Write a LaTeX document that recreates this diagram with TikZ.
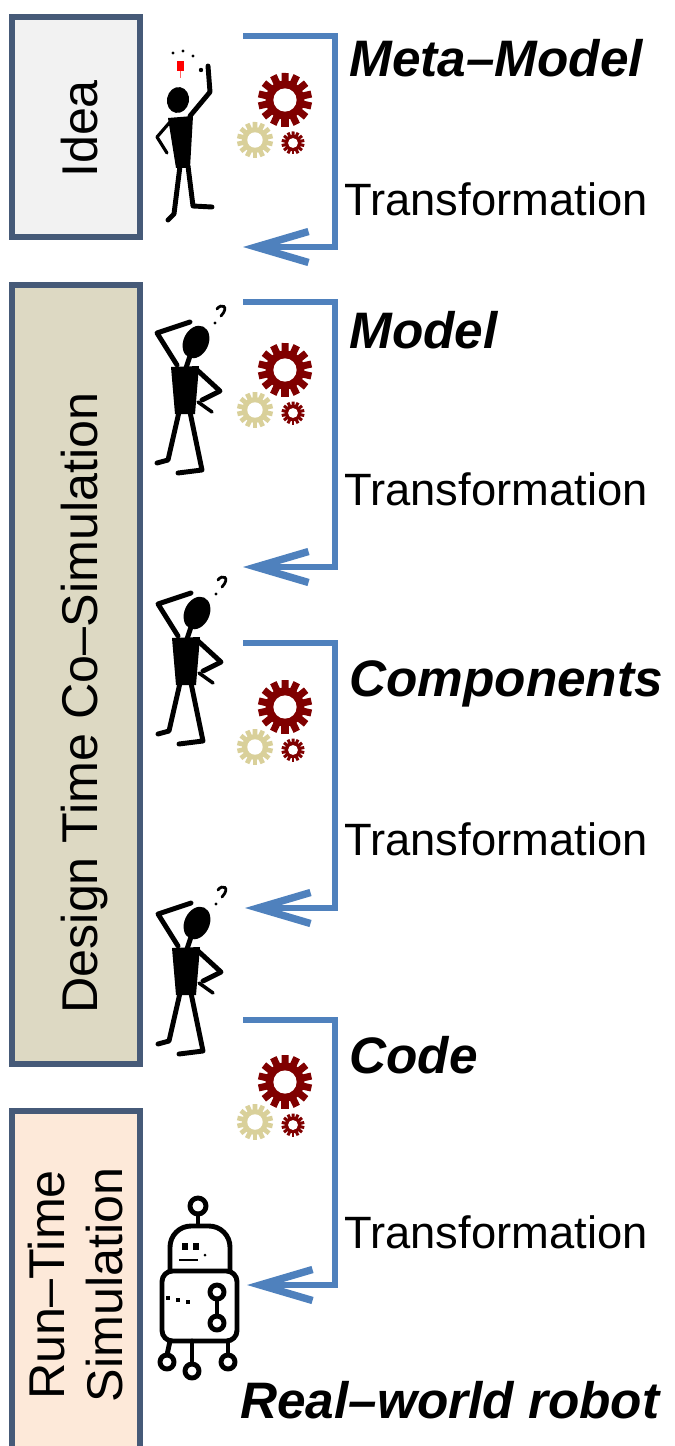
\documentclass[tikz,border=0pt]{standalone}
\usepackage{fontspec}
\setmainfont{Liberation Sans}
\usepackage{tikz}
\usetikzlibrary{arrows.meta}

\definecolor{flowblue}{HTML}{4F81BD}
\definecolor{frameblue}{HTML}{465A78}
\definecolor{ideafill}{HTML}{F2F2F2}
\definecolor{designfill}{HTML}{DDD9C3}
\definecolor{runfill}{HTML}{FDE9D9}
\definecolor{cogred}{HTML}{800000}
\definecolor{cogkhaki}{HTML}{D9D09A}

\begin{document}
\begin{tikzpicture}[x=0.02cm, y=-0.02cm]
    \tikzstyle{phase} = [draw=frameblue, line width=3.4pt]
    \tikzstyle{phasetext} = [inner sep=0pt, rotate=90, font=\fontsize{28.6}{33}\selectfont]
    \tikzstyle{stage} = [inner sep=0pt, anchor=base west, font=\fontsize{29.2}{34}\selectfont\bfseries\itshape]
    \tikzstyle{trans} = [inner sep=0pt, anchor=base west, font=\fontsize{25.8}{30}\selectfont]
    \tikzstyle{flow} = [flowblue, line width=3pt, -{Straight Barb[length=1.05cm, width=0.62cm, line width=4.2pt]}]
    \tikzstyle{ink} = [line width=2.8pt, line cap=round, line join=round]

    \tikzset{
      pics/cog/.style={code={
        \fill (0,0) circle (7.2);
        \foreach \a in {0,25.7,...,340} \fill[rotate=\a] (-1.3,0) rectangle (1.3,10);
        \fill[white] (0,0) circle (4.3);
      }},
      pics/cogs/.style={code={
        \pic[cogred, scale=2.7] {cog};
        \pic[cogkhaki, scale=1.8] at (-30,40) {cog};
        \pic[cogred, scale=1.15] at (8,43) {cog};
      }},
      pics/thinker/.style={code={
        \fill[rotate=-25] (0,0) ellipse (12.5 and 17);
        % hand scratching the head
        \draw[ink] (-19,23) -- (-39,-9) -- (-6,-20);
        \draw[ink] (-6,14) -- (-10,26);
        \fill (-25,25) -- (3,24) -- (-1,72) -- (-21,72) -- cycle;
        \draw[ink] (0,27) -- (24,49) -- (6,58);
        \draw[ink, line width=2pt] (2,60) -- (16,70);
        \draw[ink] (-17,70) -- (-28,118) -- (-39,121);
        \draw[ink] (-6,70) -- (6,128) -- (-18,131);
        % question mark
        \draw[line width=1.6pt, line cap=round] (21,-33) .. controls (25,-39) and (34,-36) .. (25,-26);
        \fill (19,-19) circle (1.7);
      }}
    }

    \clip (0,0) rectangle (674,1446);

    % Phases
    \draw[phase, fill=ideafill] (12,17) rectangle (140,237);
    \draw[phase, fill=designfill] (12,285) rectangle (140,1064);
    \draw[phase, fill=runfill] (12,1111) rectangle (140,1470);
    \node[phasetext, anchor=base] (idea) at (97,129) {Idea};
    \node[phasetext, anchor=base] (design) at (97,703) {Design Time Co–Simulation};
    \node[phasetext, align=center] (runtime) at (76,1285) {Run–Time\\Simulation};

    % Artifacts and transformations
    \node[stage] (meta) at (349,77) {Meta–Model};
    \node[trans] (t1) at (344,215) {Transformation};
    \node[stage] (model) at (349,348) {Model};
    \node[trans] (t2) at (344,505) {Transformation};
    \node[stage] (comp) at (349,696) {Components};
    \node[trans] (t3) at (344,855) {Transformation};
    \node[stage] (code) at (349,1073) {Code};
    \node[trans] (t4) at (344,1248) {Transformation};
    \node[stage] (robot) at (240,1418) {Real–world robot};

    % Brackets
    \coordinate (m1) at (243,36);   \coordinate (n1) at (243,247);
    \coordinate (m2) at (243,302);  \coordinate (n2) at (243,567);
    \coordinate (m3) at (243,643);  \coordinate (n3) at (245,908);
    \coordinate (m4) at (243,1020); \coordinate (n4) at (247,1285);
    \draw[flow] (m1) -- ++(92,0) |- (n1);
    \draw[flow] (m2) -- ++(92,0) |- (n2);
    \draw[flow] (m3) -- ++(92,0) |- (n3);
    \draw[flow] (m4) -- ++(92,0) |- (n4);

    % Gears
    \pic at (285,100) {cogs};
    \pic at (285,370) {cogs};
    \pic at (285,707) {cogs};
    \pic at (285,1082) {cogs};

    % Idea man
    \fill[red] (177,61) rectangle (184,71);
    \draw[red!60, line width=1pt] (180.5,71) -- (180.5,78);
    \foreach \x/\y in {173/53,183/51,193/56} \fill (\x,\y) circle (1.6);
    \fill[rotate around={-10:(178,100)}] (178,100) ellipse (11 and 13);
    \draw[ink] (190,116) -- (210,92) -- (208,66);
    \fill (201,70) circle (2.2);
    \fill (168,118) -- (193,116) -- (190,168) -- (176,168) -- cycle;
    \draw[ink, line width=1.8pt] (170,122) -- (157,137) -- (167,153);
    \draw[ink] (180,166) -- (174,214) -- (168,220);
    \draw[ink] (188,166) -- (193,206) -- (212,207);

    % Thinkers
    \pic at (196,342) {thinker};
    \pic at (197,613) {thinker};
    \pic at (197,923) {thinker};

    % Robot
    \draw[ink] (198,1206) circle (8);
    \draw[ink] (198,1214) -- (198,1225);
    \draw[ink, rounded corners=12] (170,1270) -- (170,1226) -- (230,1226) -- (230,1270);
    \fill (182,1243) rectangle (188,1250);
    \fill (193,1243) rectangle (199,1250);
    \draw[line width=1.5pt] (179,1260) -- (198,1260);
    \fill (205,1255) circle (1.5);
    \draw[ink, rounded corners=6] (162,1271) rectangle (237,1341);
    \foreach \x/\y in {168/1298,178/1300,188/1302} \fill (\x-2,\y-2) rectangle (\x+2,\y+2);
    \draw[ink] (217,1292) circle (7);
    \draw[ink] (217,1323) circle (7);
    \draw[ink] (217,1299) -- (217,1316);
    \draw[ink] (170,1341) -- (167,1355);
    \draw[ink] (192,1341) -- (192,1364);
    \draw[ink] (228,1341) -- (228,1355);
    \draw[ink] (167,1362) circle (7);
    \draw[ink] (192,1371) circle (7);
    \draw[ink] (228,1362) circle (7);
\end{tikzpicture}
\end{document}
